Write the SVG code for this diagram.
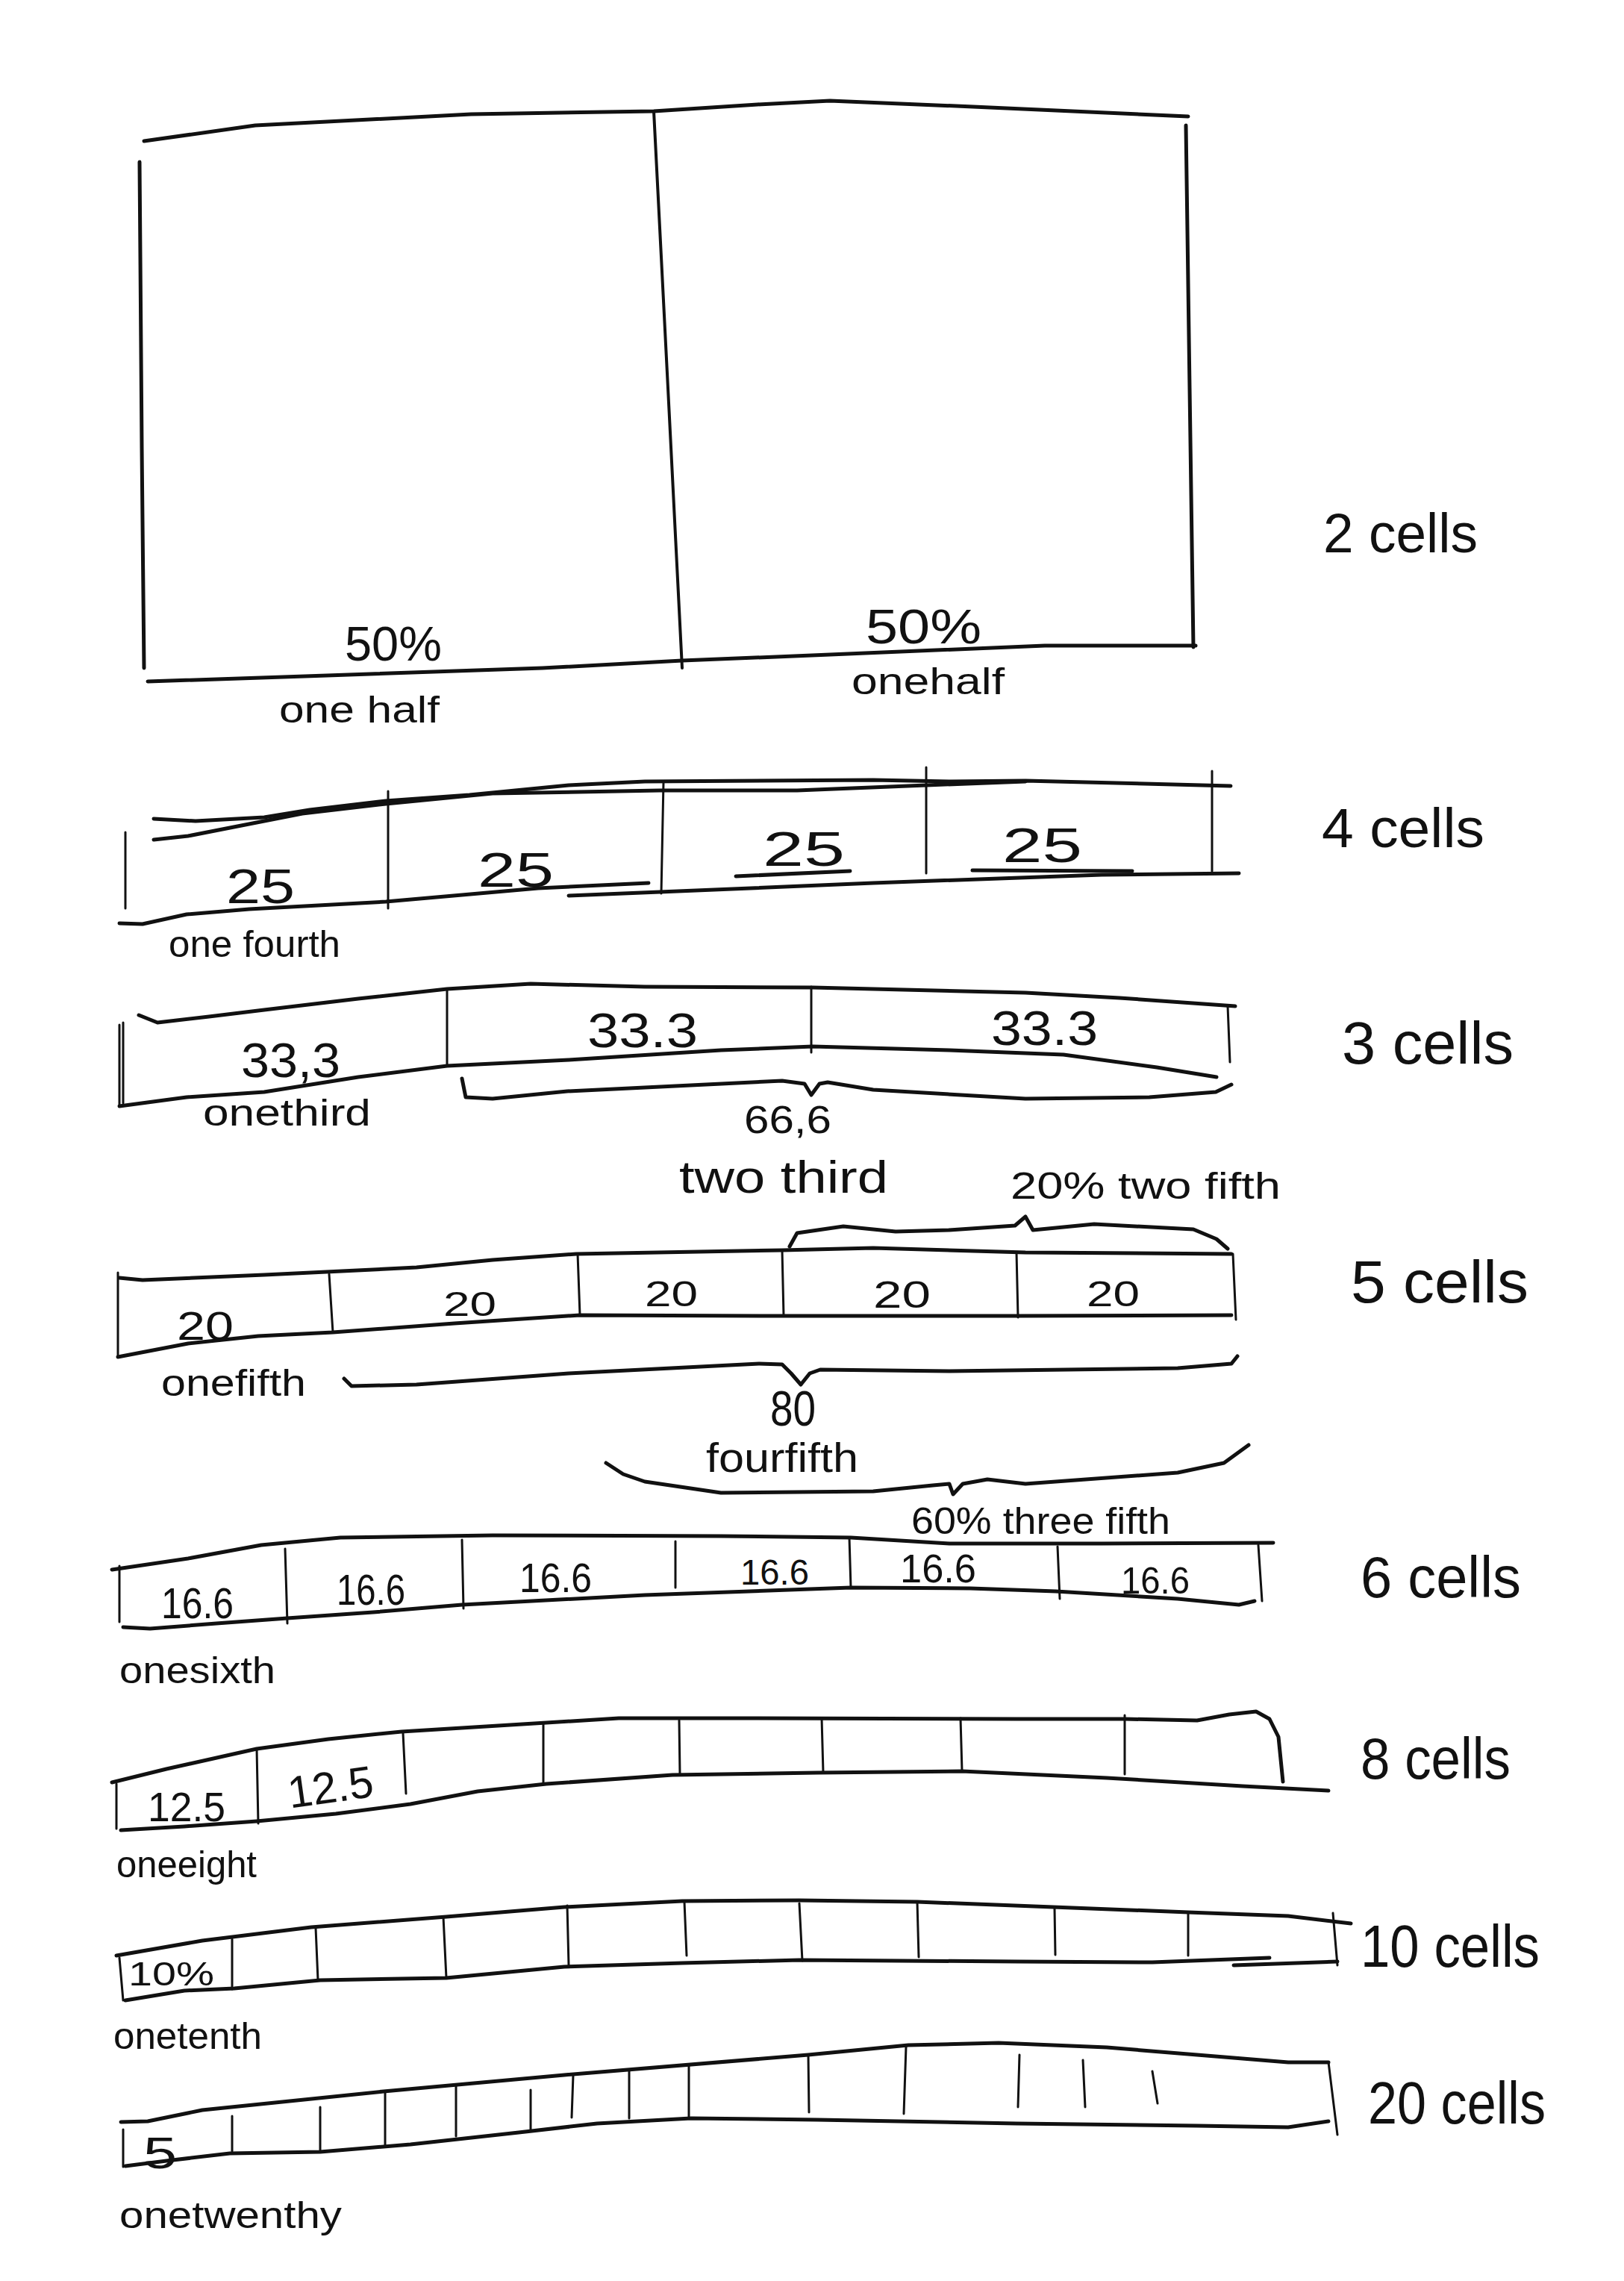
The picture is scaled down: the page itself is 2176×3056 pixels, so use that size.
<svg xmlns="http://www.w3.org/2000/svg" width="2176" height="3056" viewBox="0 0 2176 3056">
<style>
.ln{fill:none;stroke:#111;stroke-width:5;stroke-linecap:round;stroke-linejoin:round}
.tn{fill:none;stroke:#111;stroke-width:3;stroke-linecap:round}
.t{font-family:"Liberation Sans Narrow","Liberation Sans",sans-serif;fill:#111}
.lab{font-size:74px}
.sm{font-size:50px}
.num{font-size:64px}
</style>
<rect width="2176" height="3056" fill="#fff"/>

<g id="bar2">
<path class="ln" d="M193,189 L342,168 L631,153 L876,149 L1015,140 L1112,135 L1304,143 L1592,156"/>
<path class="ln" d="M187,217 L190,600 L193,895"/>
<path class="ln" d="M876,149 L895,520 L914,895" style="stroke-width:4"/>
<path class="ln" d="M1589,168 L1594,520 L1599,867"/>
<path class="ln" d="M198,913 L438,905 L727,895 L914,885 L1112,877 L1400,865 L1602,865"/>
<text class="t num" x="462" y="885" textLength="130" lengthAdjust="spacingAndGlyphs">50%</text>
<text class="t num" x="1160" y="862" textLength="155" lengthAdjust="spacingAndGlyphs">50%</text>
<text class="t sm" x="374" y="968" textLength="215" lengthAdjust="spacingAndGlyphs">one half</text>
<text class="t sm" x="1141" y="930" textLength="205" lengthAdjust="spacingAndGlyphs">onehalf</text>
<text class="t lab" x="1773" y="740" textLength="207" lengthAdjust="spacingAndGlyphs">2 cells</text>
</g>

<g id="bar4">
<path class="ln" d="M206,1097 L262,1100 L354,1095 L415,1085 L517,1073 L629,1065 L762,1052 L864,1047 L1170,1045 L1272,1047 L1374,1046 L1649,1053"/>
<path class="ln" d="M206,1125 L252,1120 L405,1090 L517,1077 L660,1063 L884,1059 L1068,1059 L1241,1052 L1374,1047"/>
<path class="tn" d="M168,1115 L168,1217"/>
<path class="tn" d="M520,1060 L520,1217"/>
<path class="tn" d="M889,1048 L886,1197"/>
<path class="tn" d="M1241,1028 L1241,1170"/>
<path class="tn" d="M1624,1033 L1624,1167"/>
<path class="ln" d="M160,1237 L191,1238 L250,1225 L334,1218 L517,1208 L721,1190 L869,1183"/>
<path class="ln" d="M762,1200 L884,1195 L1170,1183 L1476,1172 L1660,1170"/>
<path class="ln" d="M986,1174 L1139,1167"/>
<path class="ln" d="M1303,1166 L1517,1167"/>
<text class="t num" x="303" y="1210" textLength="92" lengthAdjust="spacingAndGlyphs">25</text>
<text class="t num" x="640" y="1188" textLength="102" lengthAdjust="spacingAndGlyphs">25</text>
<text class="t num" x="1022" y="1160" textLength="110" lengthAdjust="spacingAndGlyphs">25</text>
<text class="t num" x="1343" y="1155" textLength="107" lengthAdjust="spacingAndGlyphs">25</text>
<text class="t sm" x="226" y="1282" textLength="230" lengthAdjust="spacingAndGlyphs">one fourth</text>
<text class="t lab" x="1771" y="1135" textLength="218" lengthAdjust="spacingAndGlyphs">4 cells</text>
</g>

<g id="bar3">
<path class="ln" d="M186,1360 L211,1370 L280,1362 L354,1353 L480,1338 L599,1325 L711,1318 L864,1322 L1089,1323 L1374,1330 L1500,1337 L1655,1348"/>
<path class="tn" d="M160,1373 L160,1482"/>
<path class="tn" d="M165,1370 L165,1478"/>
<path class="tn" d="M599,1325 L599,1428"/>
<path class="tn" d="M1087,1322 L1087,1410"/>
<path class="tn" d="M1645,1348 L1648,1423"/>
<path class="ln" d="M160,1482 L250,1470 L354,1463 L480,1443 L599,1428 L762,1420 L966,1407 L1089,1402 L1272,1407 L1425,1413 L1550,1430 L1630,1443"/>
<text class="t num" x="323" y="1443" textLength="133" lengthAdjust="spacingAndGlyphs">33,3</text>
<text class="t num" x="787" y="1403" textLength="148" lengthAdjust="spacingAndGlyphs">33.3</text>
<text class="t num" x="1328" y="1400" textLength="143" lengthAdjust="spacingAndGlyphs">33.3</text>
<text class="t sm" x="272" y="1508" textLength="225" lengthAdjust="spacingAndGlyphs">onethird</text>
<text class="t lab" x="1798" y="1425" textLength="230" lengthAdjust="spacingAndGlyphs" style="font-size:80px">3 cells</text>
</g>

<g id="bar5">
<path class="ln" d="M160,1712 L191,1715 L354,1708 L458,1703 L558,1698 L660,1688 L772,1680 L1048,1675 L1170,1672 L1374,1678 L1650,1680"/>
<path class="tn" d="M158,1705 L158,1818"/>
<path class="tn" d="M441,1707 L446,1785"/>
<path class="tn" d="M774,1680 L777,1762"/>
<path class="tn" d="M1048,1675 L1050,1763"/>
<path class="tn" d="M1362,1678 L1364,1765"/>
<path class="tn" d="M1652,1680 L1656,1768"/>
<path class="ln" d="M158,1818 L252,1800 L346,1790 L446,1785 L609,1773 L777,1762 L1048,1763 L1364,1763 L1650,1762"/>
<text class="t num" x="237" y="1795" textLength="76" lengthAdjust="spacingAndGlyphs" style="font-size:54px">20</text>
<text class="t num" x="594" y="1763" textLength="71" lengthAdjust="spacingAndGlyphs" style="font-size:46px">20</text>
<text class="t num" x="864" y="1750" textLength="71" lengthAdjust="spacingAndGlyphs" style="font-size:48px">20</text>
<text class="t num" x="1170" y="1752" textLength="77" lengthAdjust="spacingAndGlyphs" style="font-size:50px">20</text>
<text class="t num" x="1456" y="1750" textLength="71" lengthAdjust="spacingAndGlyphs" style="font-size:48px">20</text>
<text class="t sm" x="216" y="1870" textLength="194" lengthAdjust="spacingAndGlyphs">onefifth</text>
<text class="t lab" x="1810" y="1745" textLength="238" lengthAdjust="spacingAndGlyphs" style="font-size:80px">5 cells</text>
</g>

<g id="bar6">
<path class="ln" d="M150,2103 L252,2088 L350,2070 L456,2060 L660,2057 L966,2058 L1140,2060 L1272,2068 L1476,2068 L1706,2067"/>
<path class="tn" d="M160,2098 L160,2173"/>
<path class="tn" d="M382,2075 L385,2175"/>
<path class="tn" d="M619,2063 L621,2155"/>
<path class="tn" d="M905,2065 L905,2127"/>
<path class="tn" d="M1138,2060 L1140,2127"/>
<path class="tn" d="M1417,2072 L1420,2142"/>
<path class="tn" d="M1686,2070 L1691,2145"/>
<path class="ln" d="M165,2180 L201,2182 L290,2175 L385,2168 L500,2160 L619,2150 L864,2137 L1140,2127 L1300,2128 L1415,2132 L1578,2142 L1660,2150 L1681,2145"/>
<text class="t num" x="216" y="2168" textLength="97" lengthAdjust="spacingAndGlyphs" style="font-size:58px">16.6</text>
<text class="t num" x="451" y="2150" textLength="92" lengthAdjust="spacingAndGlyphs" style="font-size:58px">16.6</text>
<text class="t num" x="696" y="2133" textLength="97" lengthAdjust="spacingAndGlyphs" style="font-size:56px">16.6</text>
<text class="t num" x="992" y="2123" textLength="92" lengthAdjust="spacingAndGlyphs" style="font-size:48px">16.6</text>
<text class="t num" x="1206" y="2120" textLength="102" lengthAdjust="spacingAndGlyphs" style="font-size:54px">16.6</text>
<text class="t num" x="1502" y="2135" textLength="92" lengthAdjust="spacingAndGlyphs" style="font-size:50px">16.6</text>
<text class="t sm" x="160" y="2255" textLength="209" lengthAdjust="spacingAndGlyphs">onesixth</text>
<text class="t lab" x="1823" y="2140" textLength="215" lengthAdjust="spacingAndGlyphs" style="font-size:78px">6 cells</text>
</g>

<g id="bar8">
<path class="ln" d="M150,2388 L223,2370 L344,2343 L440,2330 L538,2320 L732,2308 L829,2302 L998,2302 L1362,2303 L1507,2303 L1604,2305 L1647,2297 L1683,2293 L1701,2303 L1713,2327 L1719,2387"/>
<path class="tn" d="M156,2390 L156,2450"/>
<path class="tn" d="M344,2343 L346,2443"/>
<path class="tn" d="M540,2322 L544,2403"/>
<path class="tn" d="M728,2308 L728,2390"/>
<path class="tn" d="M910,2305 L911,2378"/>
<path class="tn" d="M1101,2302 L1103,2375"/>
<path class="tn" d="M1287,2302 L1289,2373"/>
<path class="tn" d="M1507,2298 L1507,2377"/>
<path class="ln" d="M162,2452 L247,2447 L344,2440 L450,2430 L550,2417 L640,2400 L732,2390 L901,2378 L1095,2375 L1289,2373 L1483,2382 L1665,2393 L1780,2399"/>
<text class="t num" x="198" y="2440" textLength="104" lengthAdjust="spacingAndGlyphs" style="font-size:56px">12.5</text>
<text class="t num" x="386" y="2415" textLength="115" lengthAdjust="spacingAndGlyphs" style="font-size:60px" transform="rotate(-8 443 2400)">12.5</text>
<text class="t sm" x="156" y="2515" textLength="188" lengthAdjust="spacingAndGlyphs">oneeight</text>
<text class="t lab" x="1823" y="2383" textLength="201" lengthAdjust="spacingAndGlyphs" style="font-size:78px">8 cells</text>
</g>

<g id="bar10">
<path class="ln" d="M156,2620 L271,2600 L417,2582 L598,2568 L756,2555 L914,2547 L1071,2546 L1229,2548 L1411,2555 L1592,2562 L1726,2567 L1810,2577"/>
<path class="tn" d="M160,2623 L165,2680"/>
<path class="tn" d="M311,2598 L311,2665"/>
<path class="tn" d="M423,2583 L426,2653"/>
<path class="tn" d="M594,2568 L598,2650"/>
<path class="tn" d="M760,2553 L762,2633"/>
<path class="tn" d="M917,2548 L920,2620"/>
<path class="tn" d="M1071,2550 L1075,2627"/>
<path class="tn" d="M1229,2548 L1231,2622"/>
<path class="tn" d="M1413,2557 L1414,2619"/>
<path class="tn" d="M1592,2563 L1592,2620"/>
<path class="tn" d="M1786,2563 L1792,2633"/>
<path class="ln" d="M168,2680 L247,2667 L314,2664 L429,2653 L598,2650 L756,2635 L914,2630 L1071,2626 L1362,2628 L1544,2629 L1701,2623"/>
<path class="ln" d="M1653,2633 L1792,2628"/>
<text class="t num" x="172" y="2660" textLength="115" lengthAdjust="spacingAndGlyphs" style="font-size:44px">10%</text>
<text class="t sm" x="152" y="2745" textLength="199" lengthAdjust="spacingAndGlyphs">onetenth</text>
<text class="t lab" x="1823" y="2635" textLength="240" lengthAdjust="spacingAndGlyphs" style="font-size:80px">10 cells</text>
</g>

<g id="bar20">
<path class="ln" d="M162,2843 L198,2842 L271,2827 L514,2802 L756,2780 L1083,2753 L1217,2740 L1338,2737 L1483,2743 L1604,2753 L1726,2763 L1780,2763"/>
<path class="tn" d="M165,2853 L165,2903"/>
<path class="tn" d="M311,2835 L311,2882"/>
<path class="tn" d="M429,2823 L429,2883"/>
<path class="tn" d="M516,2802 L516,2875"/>
<path class="tn" d="M611,2793 L611,2862"/>
<path class="tn" d="M711,2800 L711,2855"/>
<path class="tn" d="M768,2780 L766,2837"/>
<path class="tn" d="M843,2775 L843,2838"/>
<path class="tn" d="M923,2767 L923,2838"/>
<path class="tn" d="M1083,2753 L1084,2830"/>
<path class="tn" d="M1214,2742 L1211,2832"/>
<path class="tn" d="M1366,2753 L1364,2823"/>
<path class="tn" d="M1451,2760 L1454,2823"/>
<path class="tn" d="M1544,2775 L1551,2818"/>
<path class="tn" d="M1780,2763 L1792,2860"/>
<path class="ln" d="M168,2902 L223,2895 L308,2885 L429,2883 L550,2873 L695,2857 L800,2845 L926,2838 L1095,2840 L1362,2845 L1604,2848 L1726,2850 L1780,2842"/>
<text class="t num" x="192" y="2905" textLength="45" lengthAdjust="spacingAndGlyphs" style="font-size:60px">5</text>
<text class="t sm" x="160" y="2985" textLength="298" lengthAdjust="spacingAndGlyphs">onetwenthy</text>
<text class="t lab" x="1833" y="2845" textLength="238" lengthAdjust="spacingAndGlyphs" style="font-size:80px">20 cells</text>
</g>

<g id="connectors">
<path class="ln" d="M619,1445 L624,1470 L660,1472 L760,1462 L864,1457 L1048,1448 L1078,1452 L1087,1467 L1098,1452 L1109,1450 L1170,1460 L1374,1472 L1540,1470 L1629,1463 L1650,1453"/>
<text class="t num" x="997" y="1518" textLength="117" lengthAdjust="spacingAndGlyphs" style="font-size:52px">66,6</text>
<text class="t lab" x="910" y="1598" textLength="280" lengthAdjust="spacingAndGlyphs" style="font-size:62px">two third</text>
<text class="t sm" x="1354" y="1606" textLength="362" lengthAdjust="spacingAndGlyphs">20% two fifth</text>
<path class="ln" d="M1058,1670 L1068,1652 L1130,1643 L1200,1650 L1272,1648 L1360,1642 L1374,1630 L1384,1648 L1466,1640 L1599,1647 L1630,1660 L1645,1673"/>
<path class="ln" d="M461,1847 L471,1857 L558,1855 L762,1840 L1017,1827 L1048,1828 L1060,1840 L1073,1855 L1085,1840 L1099,1835 L1272,1837 L1578,1833 L1650,1827 L1658,1817"/>
<text class="t num" x="1032" y="1910" textLength="61" lengthAdjust="spacingAndGlyphs" style="font-size:66px">80</text>
<text class="t sm" x="946" y="1972" textLength="204" lengthAdjust="spacingAndGlyphs" style="font-size:56px">fourfifth</text>
<path class="ln" d="M812,1960 L835,1975 L864,1985 L966,2000 L1170,1998 L1250,1990 L1272,1988 L1277,2002 L1290,1988 L1323,1982 L1374,1988 L1578,1973 L1640,1960 L1673,1936"/>
<text class="t sm" x="1221" y="2055" textLength="347" lengthAdjust="spacingAndGlyphs">60% three fifth</text>
</g>
</svg>
